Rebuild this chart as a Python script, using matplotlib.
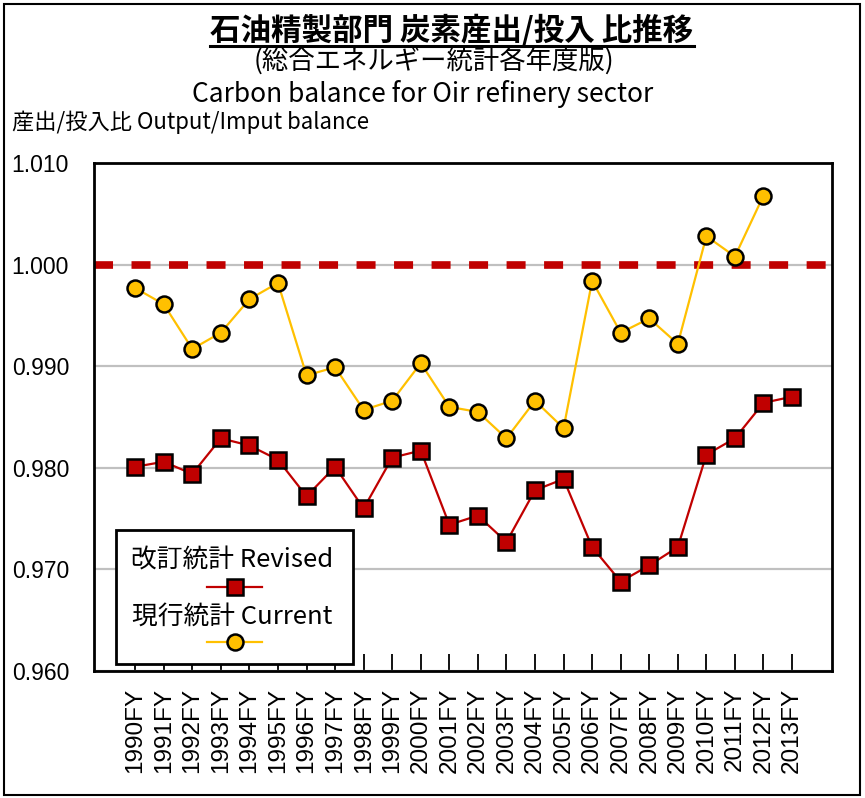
"""Carbon output/input balance of the oil refinery sector, revised vs current statistics."""
import matplotlib
matplotlib.use("Agg")
import matplotlib.pyplot as plt
from matplotlib.lines import Line2D
from matplotlib.patches import Rectangle

# ------------------------------------------------------------------
# Data
# ------------------------------------------------------------------
years = [f"{y}FY" for y in range(1990, 2014)]

revised = [0.9801, 0.9806, 0.9794, 0.9829, 0.9822, 0.9808, 0.9772, 0.9801,
           0.9760, 0.9810, 0.9817, 0.9744, 0.9753, 0.9727, 0.9778, 0.9789,
           0.9722, 0.9688, 0.9704, 0.9722, 0.9813, 0.9829, 0.9864, 0.9870]

current = [0.9977, 0.9961, 0.9917, 0.9933, 0.9966, 0.9982, 0.9891, 0.9899,
           0.9857, 0.9866, 0.9903, 0.9860, 0.9855, 0.9829, 0.9866, 0.9839,
           0.9984, 0.9933, 0.9947, 0.9922, 1.0028, 1.0008, 1.0068, None]

y_ticks = [0.960, 0.970, 0.980, 0.990, 1.000, 1.010]
reference_level = 1.000

title = "石油精製部門 炭素産出/投入 比推移"
subtitle = "(総合エネルギー統計各年度版)"
title_en = "Carbon balance for Oir refinery sector"
y_label = "産出/投入比 Output/Imput balance"
label_revised = "改訂統計 Revised"
label_current = "現行統計 Current"

RED = "#C00000"
GOLD = "#FFC000"
JP = ["Noto Sans CJK JP", "DejaVu Sans"]

plt.rcParams["font.family"] = ["Liberation Sans", "DejaVu Sans"]

fig = plt.figure(figsize=(8.65, 7.98), dpi=100)
ax = fig.add_axes([0.1087, 0.1591, 0.8532, 0.6366])

x = list(range(len(years)))

# grid + 1.000 reference line
ax.set_axisbelow(True)
ax.yaxis.grid(True, color="#C0C0C0", linewidth=1.6)
ax.axhline(reference_level, color=RED, linewidth=5.5,
           linestyle=(0, (2.49, 2.42)), zorder=2)

# series
ax.plot(x, current, color=GOLD, linewidth=1.6, marker="o", markersize=11.5,
        markerfacecolor=GOLD, markeredgecolor="black", markeredgewidth=1.8,
        zorder=4)
ax.plot(x, revised, color=RED, linewidth=1.6, marker="s", markersize=11,
        markerfacecolor=RED, markeredgecolor="black", markeredgewidth=1.8,
        zorder=4)

ax.set_xlim(-1.44, 24.4)
ax.set_ylim(y_ticks[0], y_ticks[-1])
ax.set_yticks(y_ticks)
ax.set_yticklabels([f"{v:.3f}" for v in y_ticks], fontsize=16.5)
ax.tick_params(axis="y", length=0, pad=18)

ax.set_xticks(x)
ax.set_xticklabels(years, rotation=90, fontsize=17.5)
ax.tick_params(axis="x", direction="in", length=12, width=1.3, pad=12)

for sp in ax.spines.values():
    sp.set_linewidth(2)
    sp.set_color("black")

# legend box (text above its marker sample, as in the original)
ax.add_patch(Rectangle((0.0298, 0.0138), 0.3212, 0.2638, transform=ax.transAxes,
                       facecolor="white", edgecolor="black", linewidth=2,
                       zorder=10))
for (ty, my, label, color, mk, ms) in [
        (0.2185, 0.1654, label_revised, RED, "s", 11),
        (0.1063, 0.0571, label_current, GOLD, "o", 11.5)]:
    ax.text(0.1877, ty, label, transform=ax.transAxes, ha="center",
            va="center", fontsize=18.5, family=JP, zorder=11)
    ax.add_line(Line2D([0.153, 0.228], [my, my], transform=ax.transAxes,
                       color=color, linewidth=1.6, zorder=11))
    ax.add_line(Line2D([0.1905], [my], transform=ax.transAxes, marker=mk,
                       markersize=ms, markerfacecolor=color,
                       markeredgecolor="black", markeredgewidth=1.8,
                       linestyle="none", zorder=12))

# titles
t = fig.text(0.5225, 0.9615, title, ha="center", va="center", fontsize=22,
             fontweight="bold", family=JP)
fig.text(0.5017, 0.9225, subtitle, ha="center", va="center", fontsize=19,
         family=JP)
fig.text(0.489, 0.882, title_en, ha="center", va="center", fontsize=19,
         family=JP)
fig.text(0.0139, 0.847, y_label, ha="left", va="center", fontsize=16,
         family=JP)

# underline the main title
fig.canvas.draw()
bb = t.get_window_extent()
W, H = fig.bbox.width, fig.bbox.height
uy = (bb.y0 + 1) / H
fig.add_artist(Line2D([bb.x0 / W, bb.x1 / W], [uy, uy], color="black",
                      linewidth=2.2))

# outer frame of the chart area
fig.add_artist(Rectangle((0.005, 0.004), 0.989, 0.991, transform=fig.transFigure,
                         fill=False, edgecolor="black", linewidth=1.5))

fig.savefig("out.png", dpi=100)
plt.close(fig)
